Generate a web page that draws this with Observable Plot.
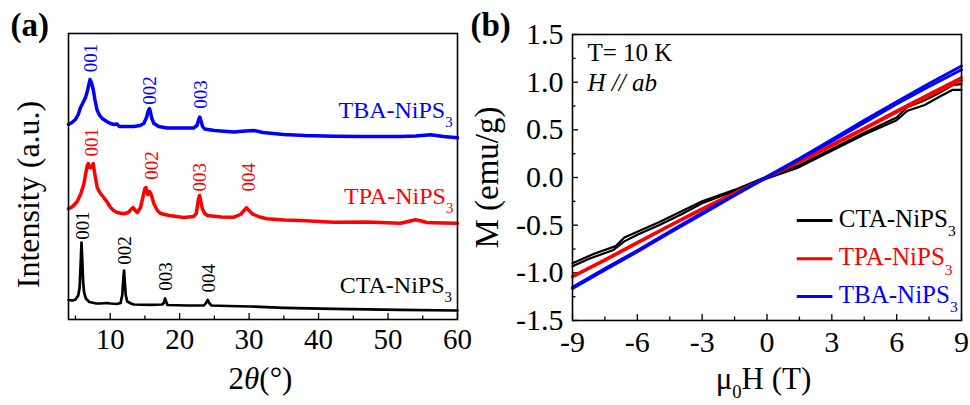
<!DOCTYPE html>
<html><head><meta charset="utf-8">
<script src="https://cdn.jsdelivr.net/npm/d3@7"></script>
<script src="https://cdn.jsdelivr.net/npm/@observablehq/plot@0.6"></script>
<style>
html,body{margin:0;padding:0;background:#fff;}
#wrap{position:relative;width:970px;height:405px;overflow:hidden;background:#fff;}
#wrap svg{position:absolute;top:0;overflow:visible;}
</style></head><body><div id="wrap"></div>
<script>
// ---------- Panel (a): XRD patterns (2θ in degrees, intensity in a.u., stacked offsets) ----------
const xrdTBA = [[4.0,195],[4.5,197],[5.0,200],[5.4,205],[5.73,212],[6.1,217],[6.45,222],[6.7,228],[6.9,234],[7.1,240],[7.3,237],[7.56,230],[7.8,220],[8.13,209],[8.5,204],[8.85,201],[9.5,198],[10.05,196],[10.6,195],[11.0,195.5],[11.3,193],[12.2,193],[13.4,193],[14.3,194],[14.84,196],[15.23,202],[15.5,209],[15.66,211],[15.85,206],[16.0,201],[16.3,196],[17.0,193],[18.2,191.5],[20,191.5],[22.0,191.5],[22.5,194],[22.75,200],[22.9,202.5],[23.1,198],[23.3,193],[23.6,190.5],[25,189],[27.8,187.5],[29.5,188.5],[30.7,189],[32,187],[35.0,185],[38,184],[42.2,183.3],[46,183],[51.8,183],[54,183.5],[56.1,184.7],[58,183],[60,181.7]];
const xrdTPA = [[4.0,110.7],[4.6,113],[5.25,118],[5.73,125],[6.2,135],[6.5,147],[6.7,154],[6.85,156],[7.05,152],[7.3,152],[7.56,156],[7.75,147],[8.13,132],[8.6,126],[9.08,122],[9.6,117],[10.05,112],[10.5,109],[11.0,107],[11.96,105.7],[12.6,107],[13.0,110],[13.3,112],[13.6,109],[13.9,107],[14.37,112],[14.7,122],[15.0,131],[15.15,132],[15.4,125],[15.65,128],[15.85,126],[16.3,115.7],[16.8,109],[17.25,106],[18.5,104],[20.6,102],[22.0,103],[22.4,106],[22.7,120],[22.86,124],[23.0,120],[23.25,111],[23.6,106],[24.0,104],[26,102.5],[27.8,102.3],[28.76,105],[29.4,110],[29.63,111.7],[30.0,109],[30.45,105.7],[31.5,102.5],[32.6,100.7],[35,99.5],[37.4,99],[42.2,97.3],[47.0,97.5],[51.8,96.3],[53.2,98.5],[53.96,99.7],[54.8,98.5],[55.6,97],[58,96.5],[60,96.3]];
const xrdCTA = [[4.0,19.5],[4.6,19],[5.0,20],[5.4,24],[5.6,32],[5.75,55],[5.87,77],[5.98,60],[6.1,38],[6.25,27],[6.5,21],[7.0,17.5],[8.0,16],[8.6,16],[9.5,16.5],[10.05,16],[11.0,15.5],[11.5,16.5],[11.75,25],[11.9,42],[12.0,49],[12.1,38],[12.25,24],[12.45,18],[13.0,16],[13.4,15],[15.8,14.7],[17.5,15],[17.75,17],[17.9,21],[18.05,18],[18.25,14.5],[21.1,14],[23.5,14],[23.8,16.5],[24.05,19.5],[24.3,16],[24.6,14],[27,13.5],[30.2,13],[35,11.7],[42.2,10.7],[51.8,9.7],[60,9]];

// peak indices: [2θ, label height, label, sample]
const peakLabels = [
  [7.27,261.5,"001","TBA"],[15.66,229,"002","TBA"],[23.1,225,"003","TBA"],
  [7.41,177.3,"001","TPA"],[16.05,154,"002","TPA"],[22.9,142.3,"003","TPA"],[29.96,142.3,"004","TPA"],
  [6.12,94,"001","CTA"],[12.06,69,"002","CTA"],[18.07,43,"003","CTA"],[24.2,41.3,"004","CTA"]
];
// sample name tags: [2θ end, height, name, sample]
const sampleTags = [[59.3,201.7,"TBA-NiPS3","TBA"],[59.4,115.7,"TPA-NiPS3","TPA"],[59.2,26.3,"CTA-NiPS3","CTA"]];
const xTicksA = [10,20,30,40,50,60];
const xMinorA = [5,15,25,35,45,55];

// ---------- Panel (b): M–H loops at 10 K (H in T, M in emu/g) ----------
const mhCTAup = [[-9,-0.93],[-8.2,-0.85],[-7.1,-0.76],[-6.6,-0.67],[-6,-0.6],[-5,-0.5],[-4,-0.39],[-3,-0.27],[-1.7,-0.16],[0,-0.01],[1.4,0.1],[2.9,0.27],[4.5,0.45],[6,0.6],[6.5,0.7],[7.3,0.76],[8,0.85],[8.6,0.92],[9,0.92]];
const mhCTAdown = [[9,0.98],[8.6,0.97],[8,0.89],[7.2,0.8],[6.5,0.74],[6,0.63],[4.5,0.47],[3,0.3],[1.5,0.13],[0,0.01],[-1.5,-0.13],[-3,-0.25],[-4,-0.36],[-5,-0.47],[-6,-0.57],[-6.6,-0.63],[-7,-0.72],[-8,-0.8],[-9,-0.9]];
const mhTPAup = [[-9,-1.045],[-7.5,-0.87],[-6,-0.69],[-4.5,-0.51],[-3,-0.335],[-1.5,-0.165],[0,0],[1.5,0.16],[3,0.33],[4.5,0.505],[6,0.685],[7.5,0.855],[9,1.02]];
const mhTPAdown = [[9,1.05],[7.5,0.875],[6,0.7],[4.5,0.52],[3,0.345],[1.5,0.17],[0,0.005],[-1.5,-0.16],[-3,-0.325],[-4.5,-0.5],[-6,-0.68],[-7.5,-0.86],[-9,-1.035]];
const mhTBAup = [[-9,-1.165],[-7.5,-0.97],[-6,-0.78],[-4.5,-0.58],[-3,-0.385],[-1.5,-0.19],[0,0],[1.5,0.19],[3,0.38],[4.5,0.575],[6,0.77],[7.5,0.955],[9,1.13]];
const mhTBAdown = [[9,1.17],[7.5,0.985],[6,0.795],[4.5,0.6],[3,0.4],[1.5,0.2],[0,0.01],[-1.5,-0.18],[-3,-0.37],[-4.5,-0.565],[-6,-0.765],[-7.5,-0.955],[-9,-1.15]];
const legendB = [["CTA-NiPS3","CTA",-0.451],["TPA-NiPS3","TPA",-0.853],["TBA-NiPS3","TBA",-1.248]];
const xTicksB = [-9,-6,-3,0,3,6,9];
const xMinorB = [-7.5,-4.5,-1.5,1.5,4.5,7.5];
const yTicksB = [-1.5,-1,-0.5,0,0.5,1,1.5];
const yMinorB = [-1.25,-0.75,-0.25,0.25,0.75,1.25];

const colors = {CTA: "#000000", TPA: "#ff0000", TBA: "#0000ff"};
const serif = "'Liberation Serif','Times New Roman',Times,serif";
const X = d => d[0], Y = d => d[1];

const plotA = Plot.plot({
  width: 485, height: 405,
  marginLeft: 68, marginRight: 28, marginTop: 33, marginBottom: 86,
  style: {fontFamily: serif, fontSize: "29px", color: "black", background: "none", overflow: "visible"},
  x: {domain: [4, 60]},
  y: {domain: [0, 286], axis: null},
  marks: [
    Plot.axisX(xTicksA, {tickSize: 0, tickPadding: 8.5, tickFormat: d => String(d), label: null}),
    Plot.ruleX(xTicksA, {stroke: "black", strokeWidth: 1.3, insetTop: 280}),
    Plot.ruleX(xMinorA, {stroke: "black", strokeWidth: 1.3, insetTop: 282.5}),
    Plot.line(xrdCTA, {x: X, y: Y, stroke: colors.CTA, strokeWidth: 2.7}),
    Plot.line(xrdTPA, {x: X, y: Y, stroke: colors.TPA, strokeWidth: 3.5}),
    Plot.line(xrdTBA, {x: X, y: Y, stroke: colors.TBA, strokeWidth: 3.5}),
    Plot.text(peakLabels, {x: X, y: Y, text: d => d[2], rotate: -90, textAnchor: "middle", fill: d => colors[d[3]], fontSize: 19}),
    Plot.text(sampleTags, {x: X, y: Y, text: d => d[2], textAnchor: "end", lineAnchor: "bottom", fill: d => colors[d[3]], fontSize: 24}),
    Plot.frame({stroke: "black", strokeWidth: 1.6}),
    Plot.text(["(a)"], {text: d => d, frameAnchor: "top-left", dx: -58, dy: 2, textAnchor: "start", lineAnchor: "bottom", fontSize: 33, fontWeight: "bold"}),
    Plot.text(["Intensity (a.u.)"], {text: d => d, frameAnchor: "left", dx: -39.5, dy: 18, rotate: -90, textAnchor: "middle", lineAnchor: "middle", fontSize: 32}),
    Plot.text(["2θ(°)"], {text: d => d, frameAnchor: "bottom", dx: -2.5, dy: 69, textAnchor: "middle", lineAnchor: "bottom", fontSize: 31})
  ]
});

const plotB = Plot.plot({
  width: 485, height: 405,
  marginLeft: 87, marginRight: 9, marginTop: 34, marginBottom: 85,
  style: {fontFamily: serif, fontSize: "30px", color: "black", background: "none", overflow: "visible"},
  x: {domain: [-9, 9]},
  y: {domain: [-1.5, 1.5]},
  marks: [
    Plot.axisX(xTicksB, {tickSize: 0, tickPadding: 10.5, tickFormat: d => String(d), label: null}),
    Plot.axisY(yTicksB, {tickSize: 0, tickPadding: 9, tickFormat: d => d.toFixed(1), label: null}),
    Plot.ruleX(xTicksB, {stroke: "black", strokeWidth: 1.3, insetTop: 280}),
    Plot.ruleX(xMinorB, {stroke: "black", strokeWidth: 1.3, insetTop: 282.5}),
    Plot.ruleY(yTicksB, {stroke: "black", strokeWidth: 1.3, insetRight: 383}),
    Plot.ruleY(yMinorB, {stroke: "black", strokeWidth: 1.3, insetRight: 385.5}),
    Plot.line(mhCTAup, {x: X, y: Y, stroke: colors.CTA, strokeWidth: 2.2}),
    Plot.line(mhCTAdown, {x: X, y: Y, stroke: colors.CTA, strokeWidth: 2.2}),
    Plot.line(mhTPAup, {x: X, y: Y, stroke: colors.TPA, strokeWidth: 2.8}),
    Plot.line(mhTPAdown, {x: X, y: Y, stroke: colors.TPA, strokeWidth: 2.8}),
    Plot.line(mhTBAup, {x: X, y: Y, stroke: colors.TBA, strokeWidth: 2.8}),
    Plot.line(mhTBAdown, {x: X, y: Y, stroke: colors.TBA, strokeWidth: 2.8}),
    Plot.ruleY(legendB, {y: d => d[2], x1: () => 1.4, x2: () => 3.05, stroke: d => colors[d[1]], strokeWidth: 3}),
    Plot.text(legendB, {x: () => 3.32, y: d => d[2] - 0.068, text: d => d[0], textAnchor: "start", lineAnchor: "bottom", fill: d => colors[d[1]], fontSize: 25}),
    Plot.frame({stroke: "black", strokeWidth: 1.6}),
    Plot.text(["T= 10 K"], {text: d => d, frameAnchor: "top-left", dx: 15, dy: 26, textAnchor: "start", lineAnchor: "bottom", fontSize: 25}),
    Plot.text(["H // ab"], {text: d => d, frameAnchor: "top-left", dx: 15, dy: 56, textAnchor: "start", lineAnchor: "bottom", fontSize: 25, fontStyle: "italic"}),
    Plot.text(["(b)"], {text: d => d, frameAnchor: "top-left", dx: -102, dy: 1, textAnchor: "start", lineAnchor: "bottom", fontSize: 33, fontWeight: "bold"}),
    Plot.text(["M (emu/g)"], {text: d => d, frameAnchor: "left", dx: -85, dy: 0, rotate: -90, textAnchor: "middle", lineAnchor: "middle", fontSize: 33}),
    Plot.text(["μ0H (T)"], {text: d => d, frameAnchor: "bottom", dx: -3.5, dy: 68.5, textAnchor: "middle", lineAnchor: "bottom", fontSize: 31})
  ]
});

const wrap = document.getElementById("wrap");
plotA.style.left = "0px";
plotB.style.left = "485px";
wrap.append(plotA, plotB);

// rich text: subscripts and italics
const NS = "http://www.w3.org/2000/svg";
function rich(t, parts) {
  while (t.firstChild) t.removeChild(t.firstChild);
  parts.forEach(p => {
    const s = document.createElementNS(NS, "tspan");
    s.textContent = p.t;
    if (p.i) s.setAttribute("font-style", "italic");
    if (p.sub) { s.setAttribute("font-size", p.size || "62%"); s.setAttribute("dy", p.dy || "0.6em"); }
    if (p.back) s.setAttribute("dy", p.back);
    t.appendChild(s);
  });
}
document.querySelectorAll("#wrap text").forEach(t => {
  const s = t.textContent;
  if (/NiPS3$/.test(s)) rich(t, [{t: s.slice(0, -1)}, {t: "3", sub: true}]);
  else if (s === "2θ(°)") rich(t, [{t: "2"}, {t: "θ", i: true}, {t: "(°)"}]);
  else if (s === "μ0H (T)") rich(t, [{t: "μ"}, {t: "0", sub: true, size: "60%", dy: "0.5em"}, {t: "H (T)", back: "-0.3em"}]);
});
</script></body></html>
